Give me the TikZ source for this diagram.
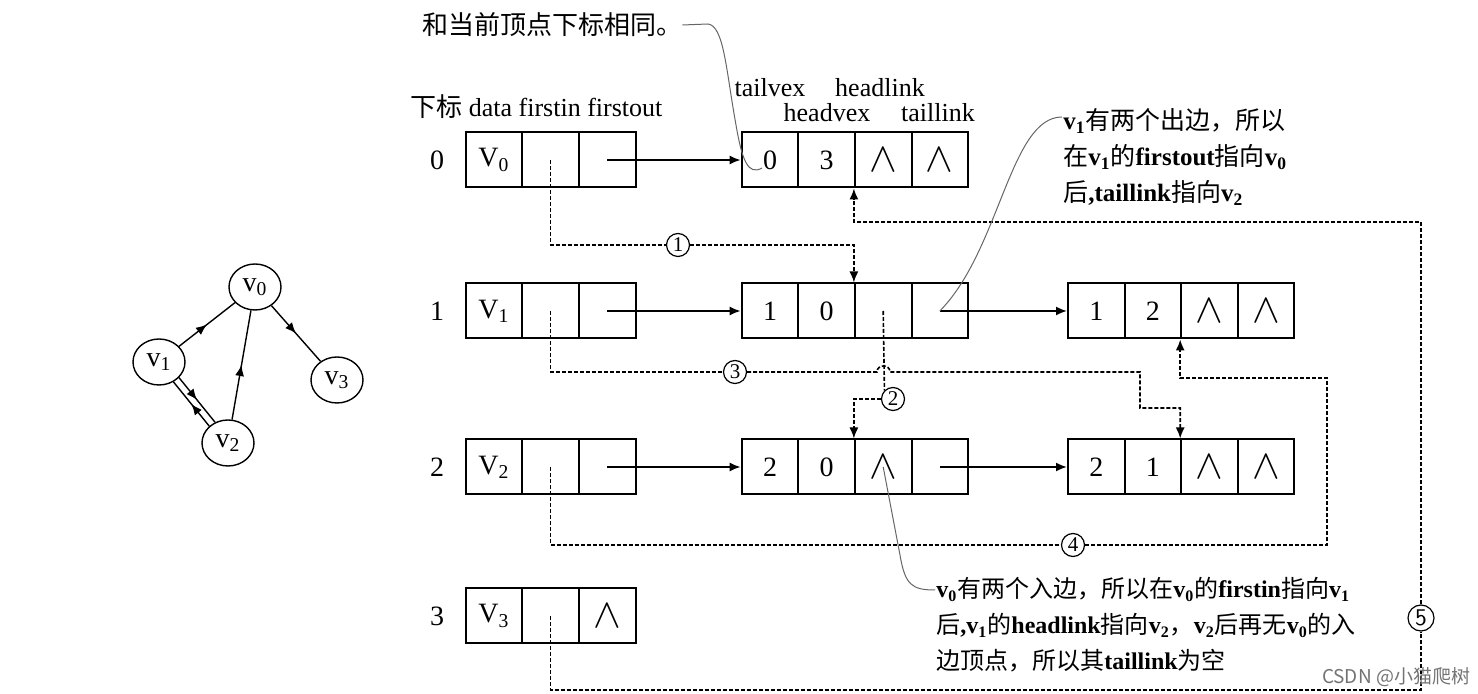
\documentclass[tikz,border=0pt]{standalone}
\usepackage{fontspec}
\setmainfont{Liberation Serif}
\newfontfamily\cjk{Noto Sans CJK SC}
\usetikzlibrary{arrows.meta,shapes.geometric,decorations.markings}

\newcommand\nil{{\fontsize{21}{21}\selectfont$\wedge$}}

\tikzset{
  cell/.style={draw,line width=1pt,minimum width=28.3pt,minimum height=27.5pt,inner sep=0pt,font=\fontsize{14}{14}\selectfont},
  lbl/.style={inner sep=0pt,font=\fontsize{13}{13}\selectfont},
  dlink/.style={line width=0.8pt,dash pattern=on 2pt off 1pt},
  tip/.style={-{Latex[length=5.5pt,width=4.5pt]}},
  num/.style={circle,draw,line width=0.6pt,fill=white,inner sep=0pt,minimum size=11.5pt,font=\fontsize{10.5}{10.5}\selectfont},
  note/.style={draw=black!60,line width=0.5pt},
  gv/.style={ellipse,draw,line width=0.7pt,minimum width=26pt,minimum height=23pt,inner sep=0pt,font=\fontsize{14}{14}\selectfont},
  garc/.style={line width=0.7pt,postaction={decorate},decoration={markings,mark=at position 0.5 with {\arrow{Latex[length=5.5pt,width=4.5pt]}}}},
}

\begin{document}
\begin{tikzpicture}[x=0.5pt,y=-0.5pt]
  \useasboundingbox (0,0) rectangle (1478,694);

  % the graph
  \node[gv](g0) at (255,287) {v\textsubscript{0}};
  \node[gv](g1) at (159,362) {v\textsubscript{1}};
  \node[gv](g2) at (228,443) {v\textsubscript{2}};
  \node[gv](g3) at (337,380) {v\textsubscript{3}};
  \draw[garc] (g1) -- (g0);
  \draw[garc] (g0) -- (g3);
  \draw[garc] (g2) -- (g0);
  \draw[garc] (g1.-38) -- (g2.122);
  \draw[garc] (g2.138) -- (g1.-54);

  % headers
  \node[lbl](top) at (552,25) {{\cjk 和当前顶点下标相同。}};
  \node[lbl,anchor=west](hdr) at (410,107) {{\cjk 下标} data firstin firstout};
  \node[lbl](tailvex) at (770,88) {tailvex};
  \node[lbl](headlink) at (880,88) {headlink};
  \node[lbl](headvex) at (827,113) {headvex};
  \node[lbl](taillink) at (938,113) {taillink};

  % vertex table
  \node[cell](v0d) at (494,160) {V\textsubscript{0}};
  \node[cell](v0i) at (550.6,160) {};
  \node[cell](v0o) at (607.2,160) {};
  \node[cell](v1d) at (494,311) {V\textsubscript{1}};
  \node[cell](v1i) at (550.6,311) {};
  \node[cell](v1o) at (607.2,311) {};
  \node[cell](v2d) at (494,467) {V\textsubscript{2}};
  \node[cell](v2i) at (550.6,467) {};
  \node[cell](v2o) at (607.2,467) {};
  \node[cell](v3d) at (494,616) {V\textsubscript{3}};
  \node[cell](v3i) at (550.6,616) {};
  \node[cell](v3o) at (607.2,616) {\nil};

  \node[lbl,font=\fontsize{14}{14}\selectfont](r0) at (437,160) {0};
  \node[lbl,font=\fontsize{14}{14}\selectfont](r1) at (437,311) {1};
  \node[lbl,font=\fontsize{14}{14}\selectfont](r2) at (437,467) {2};
  \node[lbl,font=\fontsize{14}{14}\selectfont](r3) at (437,616) {3};

  % arc nodes
  \node[cell](e03a) at (770,160) {0};
  \node[cell](e03b) at (826.6,160) {3};
  \node[cell](e03c) at (883.2,160) {\nil};
  \node[cell](e03d) at (939.8,160) {\nil};

  \node[cell](e10a) at (770,311) {1};
  \node[cell](e10b) at (826.6,311) {0};
  \node[cell](e10c) at (883.2,311) {};
  \node[cell](e10d) at (939.8,311) {};

  \node[cell](e12a) at (1096.3,311) {1};
  \node[cell](e12b) at (1152.9,311) {2};
  \node[cell](e12c) at (1209.5,311) {\nil};
  \node[cell](e12d) at (1266.1,311) {\nil};

  \node[cell](e20a) at (770,467) {2};
  \node[cell](e20b) at (826.6,467) {0};
  \node[cell](e20c) at (883.2,467) {\nil};
  \node[cell](e20d) at (939.8,467) {};

  \node[cell](e21a) at (1096.3,467) {2};
  \node[cell](e21b) at (1152.9,467) {1};
  \node[cell](e21c) at (1209.5,467) {\nil};
  \node[cell](e21d) at (1266.1,467) {\nil};

  % out-links
  \draw[tip,line width=0.9pt] (v0o.center) -- (e03a.west);
  \draw[tip,line width=0.9pt] (v1o.center) -- (e10a.west);
  \draw[tip,line width=0.9pt] (v2o.center) -- (e20a.west);
  \draw[tip,line width=0.9pt] (e10d.center) -- (e12a.west);
  \draw[tip,line width=0.9pt] (e20d.center) -- (e21a.west);

  % in-links
  \node[num](c1) at (678,245) {1};
  \node[num](c2) at (893,399) {2};
  \node[num](c3) at (735,372) {3};
  \node[num](c4) at (1073,545) {4};
  \node[num,minimum size=13pt,font=\sffamily\fontsize{12}{12}\selectfont](c5) at (1421,618) {5};

  \draw[dlink] (v0i.center) |- (c1);
  \draw[dlink,tip] (c1) -| (e10c.north west);
  \draw[dlink] (e10c.center) -- (c2.north west);
  \draw[dlink,tip] (c2) -| (e20c.north west);
  \draw[dlink] (v1i.center) |- (c3);
  \draw[dlink,tip] (c3) -- (877,372) .. controls (877,364) and (890,364) .. (890,372)
    -- (1140,372) -- (1140,408) -| (e21c.north west);
  \draw[dlink] (v2i.center) |- (c4);
  \draw[dlink,tip] (c4) -| (1327,378) -| (e12c.south west);
  \draw[dlink] (v3i.center) -- (550.6,690) -| (c5);
  \draw[dlink,tip] (c5) -- (1421,222) -| (e03c.south west);

  % notes
  \node[lbl,anchor=north west,align=left,font=\fontsize{12.5}{18}\selectfont\bfseries](n1) at (1063,108)
    {v\textsubscript{1}{\cjk\mdseries 有两个出边，所以}\\
     {\cjk\mdseries 在}v\textsubscript{1}{\cjk\mdseries 的}firstout{\cjk\mdseries 指向}v\textsubscript{0}\\
     {\cjk\mdseries 后},taillink{\cjk\mdseries 指向}v\textsubscript{2}};
  \node[lbl,anchor=north west,align=left,font=\fontsize{12}{18}\selectfont\bfseries](n2) at (936,577)
    {v\textsubscript{0}{\cjk\mdseries 有两个入边，所以在}v\textsubscript{0}{\cjk\mdseries 的}firstin{\cjk\mdseries 指向}v\textsubscript{1}\\
     {\cjk\mdseries 后},v\textsubscript{1}{\cjk\mdseries 的}headlink{\cjk\mdseries 指向}v\textsubscript{2}{\cjk\mdseries ，}v\textsubscript{2}{\cjk\mdseries 后再无}v\textsubscript{0}{\cjk\mdseries 的入}\\
     {\cjk\mdseries 边顶点，所以其}taillink{\cjk\mdseries 为空}};

  \coordinate (n1p) at (1062,117);
  \coordinate (n2p) at (935,590);
  \draw[note] (top.east) -- (708,24) .. controls (724,26) and (726,70) .. (736,125)
    .. controls (742,160) and (748,176) .. (762,168);
  \draw[note] (e10d.center) .. controls (1000,250) and (1010,117) .. (n1p);
  \draw[note] (e20c.center) -- (900,555) .. controls (905,585) and (912,590) .. (n2p);

  \node[inner sep=0pt,text=black!55,font=\cjk\fontsize{9.5}{10}\selectfont](wm) at (1396,677) {CSDN @小猫爬树};
\end{tikzpicture}
\end{document}
